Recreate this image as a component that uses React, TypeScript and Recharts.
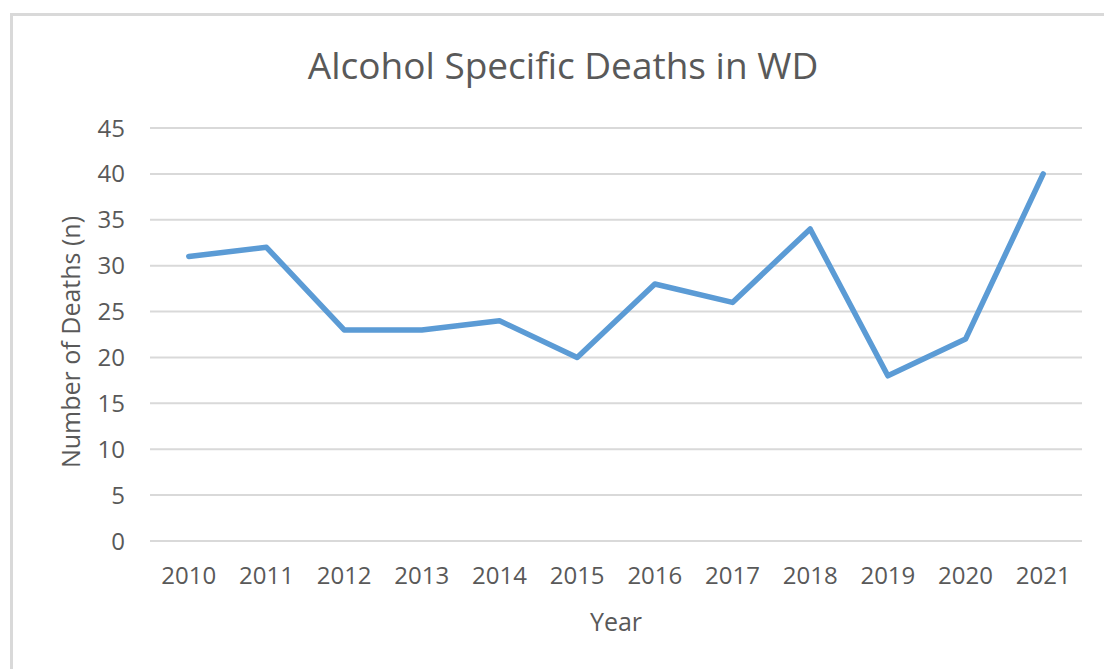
import { CartesianGrid, Line, LineChart, XAxis, YAxis } from "recharts"

const years = ["2010", "2011", "2012", "2013", "2014", "2015", "2016", "2017", "2018", "2019", "2020", "2021"]
const deaths = [31, 32, 23, 23, 24, 20, 28, 26, 34, 18, 22, 40]
const yTicks = [0, 5, 10, 15, 20, 25, 30, 35, 40, 45]

const data = years.map((y, i) => ({ year: y, deaths: deaths[i] }))

const FONT = "'Open Sans', sans-serif"
const INK = "#595959"
const GRID = "#d9d9d9"
const BLUE = "#5b9bd5"
const TICK = { fill: INK, fontSize: 24, fontFamily: FONT }

export default function App() {
  return (
    <div style={{ position: "absolute", left: 0, top: 0, width: 1104, height: 669, overflow: "hidden", background: "#fff" }}>
      <div
        style={{
          position: "absolute",
          left: 10,
          top: 13,
          width: 1100,
          height: 700,
          border: `3px solid ${GRID}`,
          boxSizing: "border-box",
        }}
      />
      <div
        style={{
          position: "absolute",
          left: 0,
          width: 1126,
          top: 40,
          textAlign: "center",
          fontFamily: FONT,
          fontSize: 37,
          color: INK,
          lineHeight: "50px",
        }}
      >
        Alcohol Specific Deaths in WD
      </div>
      <div
        style={{
          position: "absolute",
          left: 70,
          top: 342,
          transform: "translate(-50%, -50%) rotate(-90deg)",
          whiteSpace: "nowrap",
          fontFamily: FONT,
          fontSize: 25,
          color: INK,
        }}
      >
        Number of Deaths (n)
      </div>
      <div
        style={{
          position: "absolute",
          left: 616,
          top: 621,
          transform: "translate(-50%, -50%)",
          fontFamily: FONT,
          fontSize: 25,
          color: INK,
        }}
      >
        Year
      </div>
      <div style={{ position: "absolute", left: 0, top: 0 }}>
        <LineChart width={1104} height={669} data={data} margin={{ top: 128, right: 22, left: 10, bottom: 68 }}>
          <CartesianGrid stroke={GRID} strokeWidth={2} vertical={false} />
          <XAxis
            dataKey="year"
            tick={TICK}
            axisLine={false}
            tickLine={false}
            tickSize={0}
            tickMargin={26}
            height={60}
            padding={{ left: 38.8, right: 38.8 }}
            interval={0}
          />
          <YAxis
            domain={[0, 45]}
            ticks={yTicks}
            tick={TICK}
            axisLine={false}
            tickLine={false}
            tickSize={0}
            tickMargin={25}
            width={140}
            interval={0}
          />
          <Line
            type="linear"
            dataKey="deaths"
            stroke={BLUE}
            strokeWidth={5.5}
            strokeLinecap="round"
            strokeLinejoin="round"
            dot={false}
            isAnimationActive={false}
          />
        </LineChart>
      </div>
    </div>
  )
}
